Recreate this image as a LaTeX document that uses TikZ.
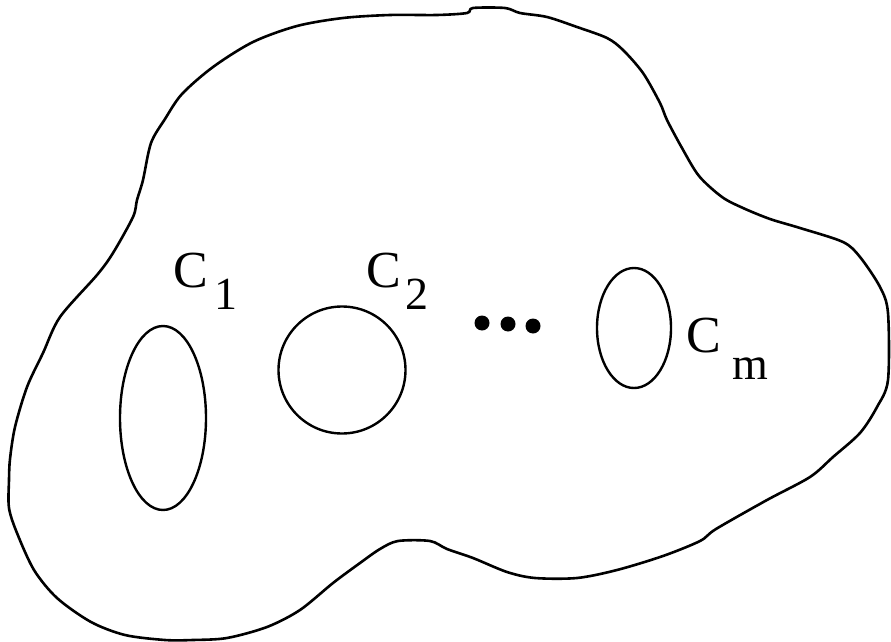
\documentclass[tikz,border=0pt]{standalone}
\usepackage{fontspec}
\setmainfont{Liberation Serif}
\usetikzlibrary{shapes.geometric}

\tikzset{
    hole/.style={draw, ellipse, line width=2.4pt, inner sep=0pt},
    lbl/.style={inner sep=0pt, font=\fontsize{52}{60}\selectfont},
    sublbl/.style={inner sep=0pt, font=\fontsize{46}{54}\selectfont},
    dot/.style={fill, circle, inner sep=0pt, minimum size=15pt}
}

\begin{document}
\begin{tikzpicture}[x=1pt, y=-1pt]
    \useasboundingbox (0,0) rectangle (891,642);

    % outer region
    \draw[line width=2.6pt] plot[smooth cycle, tension=0.5] coordinates {
        (473,8) (505,8) (520,13) (547,17) (577,27) (607,38) (623,50)
        (643,73) (660,103) (667,120) (682,148) (699,176) (722,197)
        (743,208) (770,219) (800,228) (843,242) (860,257) (880,287)
        (888,313) (888,380) (877,407) (860,433) (833,457) (810,477)
        (767,500) (716,529) (700,541) (663,556) (617,570) (577,578)
        (535,578) (507,572) (473,558) (447,549) (430,541) (398,541)
        (380,549) (360,563) (333,583) (300,610) (267,627) (227,638)
        (193,640) (165,640) (125,635) (91,622) (57,598) (34,570)
        (17,533) (9,508) (9,480) (10,459) (15,427) (27,387) (43,353)
        (60,317) (97,275) (113,253) (133,217) (137,200) (143,180)
        (151,143) (165,119) (182,94) (213,67) (253,42) (297,26)
        (343,18) (390,15) (437,15) (467,13)
    };

    % holes
    \node[hole, minimum width=86pt, minimum height=184pt] (c1) at (163,418) {};
    \node[hole, circle, minimum size=127pt] (c2) at (342,370) {};
    \node[hole, minimum width=74pt, minimum height=120pt] (cm) at (634,328) {};

    % labels
    \node[lbl] (l1) at (191,271) {C};
    \node[sublbl] (s1) at (226,294) {1};
    \node[lbl] (l2) at (384,271) {C};
    \node[sublbl] (s2) at (417,294) {2};
    \node[lbl] (lm) at (704,336) {C};
    \node[sublbl] (sm) at (750,369) {m};

    % dots
    \node[dot] (d1) at (482,323) {};
    \node[dot] (d2) at (508,324) {};
    \node[dot] (d3) at (533,326) {};
\end{tikzpicture}
\end{document}
